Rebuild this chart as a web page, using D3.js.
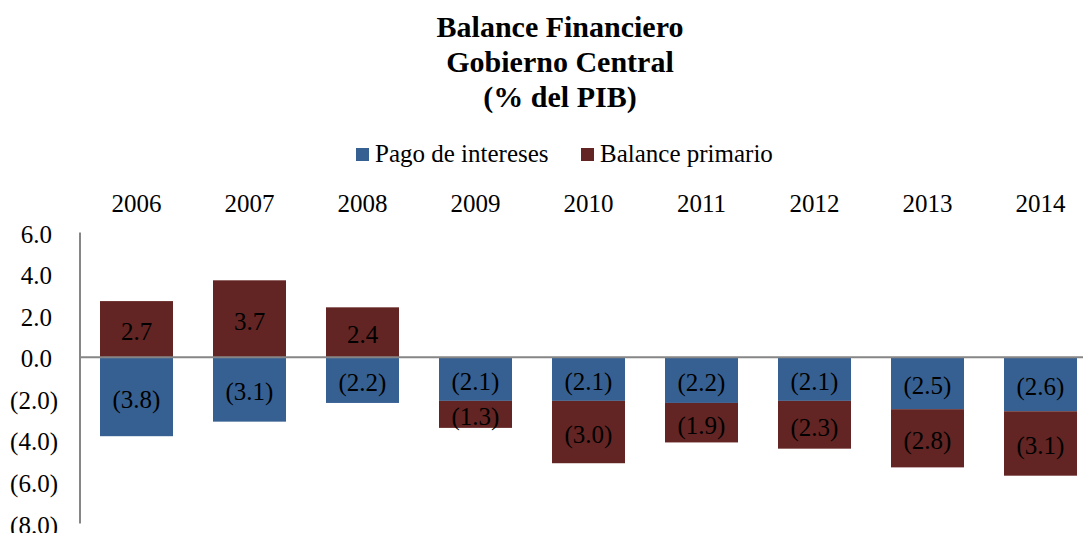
<!DOCTYPE html>
<html>
<head>
<meta charset="utf-8">
<script src="https://cdn.jsdelivr.net/npm/d3@7"></script>
<style>
  html, body { margin: 0; padding: 0; background: #fff; }
  svg { display: block; font-family: "Liberation Serif", "Times New Roman", serif; }
</style>
</head>
<body>
<svg id="chart" width="1083" height="533"></svg>
<script>
// Balance financiero del Gobierno Central, % del PIB
const years = ["2006", "2007", "2008", "2009", "2010", "2011", "2012", "2013", "2014"];
const pagoIntereses = [-3.8, -3.1, -2.2, -2.1, -2.1, -2.2, -2.1, -2.5, -2.6];
const balancePrimario = [2.7, 3.7, 2.4, -1.3, -3.0, -1.9, -2.3, -2.8, -3.1];
const yTicks = [6, 4, 2, 0, -2, -4, -6, -8];
const titleLines = ["Balance Financiero", "Gobierno Central", "(% del PIB)"];
const seriesNames = ["Pago de intereses", "Balance primario"];
const seriesColors = ["#376092", "#632523"];

const svg = d3.select("#chart");
const W = 1083, H = 533;
const FS = 25;

const x = d3.scaleBand().domain(years).range([80, 1097]).paddingInner(0.354).paddingOuter(0.177);
const y = d3.scaleLinear().domain([-8, 6]).range([523.5, 232.5]);

const fmt = v => {
  const s = Math.abs(v).toFixed(1);
  return v < 0 ? "(" + s + ")" : s;
};

// Title
svg.append("g").selectAll("text").data(titleLines).join("text")
  .attr("x", 560).attr("y", (d, i) => 37 + i * 35)
  .attr("text-anchor", "middle")
  .attr("font-size", 30).attr("font-weight", "bold")
  .text(d => d);

// Legend
const legend = svg.append("g");
const legendItems = [{ x: 356, name: seriesNames[0], color: seriesColors[0] },
                     { x: 581, name: seriesNames[1], color: seriesColors[1] }];
legendItems.forEach(it => {
  legend.append("rect").attr("x", it.x).attr("y", 148).attr("width", 13).attr("height", 13).attr("fill", it.color);
  legend.append("text").attr("x", it.x + 19).attr("y", 162).attr("font-size", FS).text(it.name);
});

// Stacked segments: positives stack up from zero, negatives stack down
const stacks = years.map((yr, i) => {
  let pos = 0, neg = 0;
  return [pagoIntereses[i], balancePrimario[i]].map((v, s) => {
    let y0, y1;
    if (v >= 0) { y0 = pos; y1 = pos + v; pos = y1; }
    else { y0 = neg; y1 = neg + v; neg = y1; }
    return { year: yr, value: v, y0, y1, s };
  });
}).flat();

const bars = svg.append("g");
bars.selectAll("rect").data(stacks).join("rect")
  .attr("x", d => x(d.year))
  .attr("width", x.bandwidth())
  .attr("y", d => y(Math.max(d.y0, d.y1)))
  .attr("height", d => Math.abs(y(d.y0) - y(d.y1)))
  .attr("fill", d => seriesColors[d.s]);

bars.selectAll("text").data(stacks).join("text")
  .attr("x", d => x(d.year) + x.bandwidth() / 2)
  .attr("y", d => (y(d.y0) + y(d.y1)) / 2 + 11)
  .attr("text-anchor", "middle")
  .attr("font-size", FS)
  .attr("fill", "#000")
  .text(d => fmt(d.value));

// Year labels along the top
svg.append("g").selectAll("text").data(years).join("text")
  .attr("x", d => x(d) + x.bandwidth() / 2)
  .attr("y", 212)
  .attr("text-anchor", "middle")
  .attr("font-size", FS)
  .text(d => d);

// Zero line
svg.append("line")
  .attr("x1", 80).attr("x2", W)
  .attr("y1", y(0)).attr("y2", y(0))
  .attr("stroke", "#868686").attr("stroke-width", 2);

// Vertical axis
const axis = d3.axisLeft(y).tickValues(yTicks).tickSize(0).tickFormat(fmt);
const ag = svg.append("g").attr("transform", "translate(80,0)").call(axis);
ag.select(".domain").attr("stroke", "#868686").attr("stroke-width", 2)
  .attr("d", `M0,${y(6)}V${y(-8)}`);
ag.selectAll("text")
  .attr("font-family", "Liberation Serif, Times New Roman, serif")
  .attr("font-size", FS).attr("fill", "#000")
  .attr("x", d => d < 0 ? -22 : -28)
  .attr("dy", "0.38em");
</script>
</body>
</html>
